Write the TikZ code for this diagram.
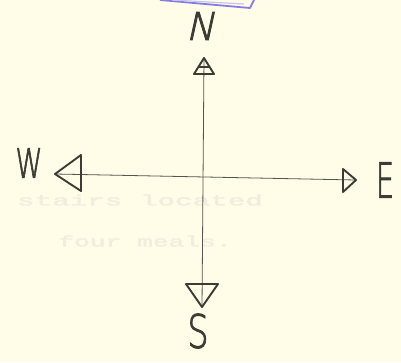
\documentclass[tikz,border=0pt]{standalone}
\usepackage{fontspec}
\newfontfamily\hand[FakeBold=2.2]{DejaVuSans-ExtraLight.ttf}
\newfontfamily\handslant[FakeBold=2.2,FakeSlant=0.22]{DejaVuSans-ExtraLight.ttf}
\newfontfamily\ghostfont[FakeBold=2]{Liberation Mono}
\definecolor{paper}{RGB}{255,253,232}
\definecolor{ink}{RGB}{60,60,52}
\definecolor{pencil}{RGB}{85,85,78}
\definecolor{ghostc}{RGB}{240,238,222}
\definecolor{boxblue}{RGB}{135,125,225}
\definecolor{boxblue2}{RGB}{200,195,245}
\tikzset{
  shaft/.style={draw=pencil, line width=0.8pt},
  headtri/.style={draw=ink, line width=1.9pt, line join=round},
  letter/.style={text=ink, inner sep=0pt, font=\hand},
  ghost/.style={text=ghostc, inner sep=0pt, font=\ghostfont\fontsize{15}{15}\selectfont}
}
\begin{document}
\begin{tikzpicture}[x=1pt,y=-1pt]
\fill[paper] (0,0) rectangle (401,362);
\useasboundingbox (0,0) rectangle (401,362);
% blue box corner (cut off at top)
\draw[boxblue, line width=1.8pt, line join=round] (160,0) -- (250,8) -- (254,0);
\draw[boxblue2, line width=1.2pt] (172,0) -- (244,4);
% ghost (show-through) text
\node[ghost] (g1) at (140,200) {\scalebox{1.95}[1]{stairs located}};
\node[ghost] (g2) at (145,241) {\scalebox{1.75}[1]{four meals.}};
% tips
\coordinate (nt) at (204,58);
\coordinate (st) at (202,307);
\coordinate (wt) at (55,174);
\coordinate (et) at (356,180);
% shafts
\draw[shaft] (nt) -- (st);
\draw[shaft] (wt) -- (et);
% arrowheads
\draw[headtri] (nt) -- (214,74) -- (194,74) -- cycle;
\draw[ink, line width=1.3pt] (198,67) -- (210,67);
\draw[headtri] (st) -- (186,284) -- (218,284) -- cycle;
\draw[headtri] (wt) -- (81,155) -- (81,191) -- cycle;
\draw[headtri] (et) -- (343,169) -- (343,192) -- cycle;
% letters
\node[letter, font=\handslant] (N) at (200,26) {\fontsize{38}{38}\selectfont N};
\node[letter] (S) at (198,331) {\fontsize{46}{46}\selectfont\scalebox{0.72}[1]{S}};
\node[letter] (W) at (29,163) {\fontsize{40}{40}\selectfont\scalebox{0.68}[1]{W}};
\node[letter] (E) at (385,180) {\fontsize{48}{48}\selectfont\scalebox{0.6}[1]{E}};
\end{tikzpicture}
\end{document}
